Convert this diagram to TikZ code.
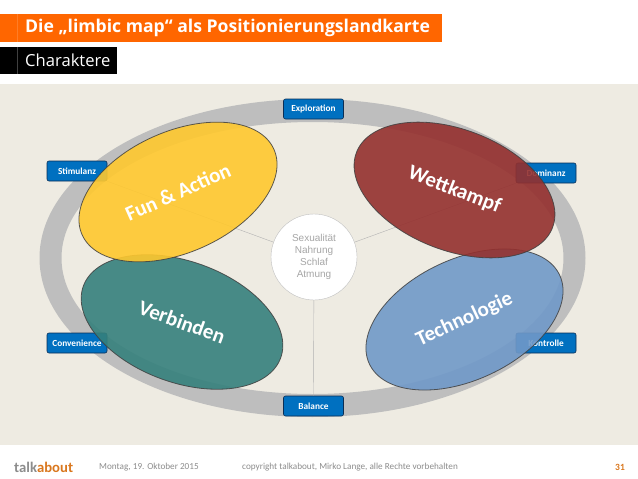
\documentclass[tikz,border=0pt]{standalone}
\usepackage{fontspec}
\setmainfont{Open Sans}
\newfontfamily\carlito{Carlito}
\newfontfamily\liberation{Liberation Sans}
\usepackage{xcolor}
\usetikzlibrary{positioning,shapes.geometric}
\definecolor{bar}{HTML}{FF6600}
\definecolor{paper}{HTML}{EEEBE2}
\definecolor{ring}{HTML}{BEBEBE}
\definecolor{tag}{HTML}{0070C0}
\definecolor{tagline}{HTML}{0B2E55}
\definecolor{fun}{HTML}{FFC82E}
\definecolor{green}{HTML}{35807C}
\definecolor{wett}{HTML}{94302E}
\definecolor{tech}{HTML}{7099C8}
\definecolor{foot}{HTML}{8C8C8C}
\definecolor{about}{HTML}{D9771E}
\tikzset{
  tagbox/.style={draw=tagline, fill=tag, rounded corners=2pt, semithick, text=white, align=center,
                 font=\carlito\bfseries\fontsize{9.3}{10}\selectfont, minimum width=60pt, minimum height=20pt, inner sep=0pt},
  blob/.style={ellipse, draw=black!75, thick, draw opacity=0.85, fill opacity=0.9, text opacity=1, text=white,
               minimum width=210pt, minimum height=121pt, inner sep=0pt,
               font=\carlito\bfseries\fontsize{21}{21}\selectfont},
  spoke/.style={draw=black!30, thin},
  foottext/.style={anchor=west, text=foot, font=\carlito\fontsize{9.2}{10}\selectfont},
}
\begin{document}
\begin{tikzpicture}[x=1pt, y=-1pt]
  \useasboundingbox (0,0) rectangle (638,479);
  % header
  \node[fill=bar, minimum width=442pt, minimum height=28pt, inner sep=0pt] (titlebar) at (221,28) {};
  \node[anchor=west, text=white, font=\bfseries\fontsize{17.6}{18}\selectfont, inner sep=0pt] (title) at (25,28) {Die „limbic map“ als Positionierungslandkarte};
  \node[fill=black, minimum width=117pt, minimum height=27pt, inner sep=0pt] (subbar) at (58.5,60.5) {};
  \node[anchor=west, text=white, font=\fontsize{16.6}{17}\selectfont, inner sep=0pt] (sub) at (25,60.5) {Charaktere};
  \draw[bar!85!white, thin] (titlebar.north west -| 17.5,0) -- (titlebar.south west -| 17.5,0);
  \draw[black!75, thin] (subbar.north west -| 17.5,0) -- (subbar.south west -| 17.5,0);
  % background and ring
  \fill[paper] (0,84) rectangle (638,445);
  \fill[ring, even odd rule] (312.5,258) ellipse [x radius=273, y radius=159]
                                          (312.5,258) ellipse [x radius=251, y radius=136];
  % tags
  \node[tagbox] (explo) at (313.5,109) {Exploration};
  \node[tagbox] (stim) at (77,171) {Stimulanz};
  \node[tagbox] (dom) at (546,173) {Dominanz};
  \node[tagbox] (conv) at (77,343) {Convenience};
  \node[tagbox] (kontr) at (546,343) {Kontrolle};
  \node[tagbox] (bal) at (313.5,406) {Balance};
  % core
  \node[circle, draw=black!25, fill=white, minimum size=86pt, inner sep=0pt, align=center, text=black!35,
        font=\liberation\fontsize{10}{11.8}\selectfont] (core) at (314,257) {Sexualität\\Nahrung\\Schlaf\\Atmung};
  \draw[spoke] (stim.south east) -- (core);
  \draw[spoke] (dom.south west) -- (core);
  \draw[spoke] (bal.north) -- (core);
  % characters
  \node[blob, fill=green, rotate=-20] (verb) at (182,322) {Verbinden};
  \node[blob, fill=fun, rotate=24] (action) at (178,192) {Fun \& Action};
  \node[blob, fill=tech, rotate=25] (techno) at (464.5,319.5) {Technologie};
  \node[blob, fill=wett, rotate=-21] (kampf) at (454.5,190) {Wettkampf};
  % footer
  \node[foottext, font=\carlito\bfseries\fontsize{14.7}{15}\selectfont, inner sep=0pt] (logo) at (14,467) {\textcolor{foot}{talk}\textcolor{about}{about}};
  \node[foottext, inner sep=0pt] (date) at (99,467) {Montag, 19. Oktober 2015};
  \node[foottext, inner sep=0pt] (copy) at (242,467) {copyright talkabout, Mirko Lange, alle Rechte vorbehalten};
  \node[foottext, text=about, font=\carlito\bfseries\fontsize{9.5}{10}\selectfont, inner sep=0pt] (page) at (615,467) {31};
\end{tikzpicture}
\end{document}
